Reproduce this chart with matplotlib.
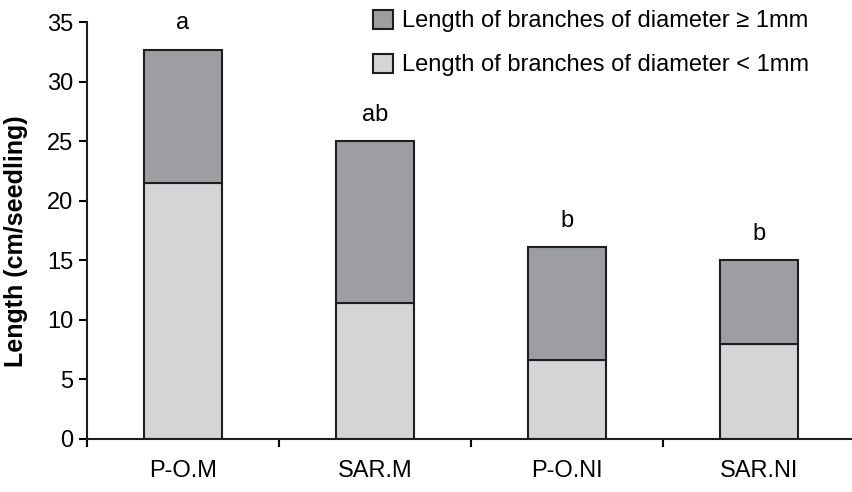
import matplotlib.pyplot as plt

plt.rcParams['font.family'] = ['Liberation Sans', 'DejaVu Sans']

treatments = ['P-O.M', 'SAR.M', 'P-O.NI', 'SAR.NI']
thin = [21.5, 11.4, 6.6, 8.0]        # diameter < 1mm
thick = [11.2, 13.6, 9.5, 7.0]       # diameter >= 1mm
letters = ['a', 'ab', 'b', 'b']

fig = plt.figure(figsize=(8.53, 4.92), dpi=100)
ax = fig.add_axes([0.102, 0.108, 0.9, 0.847])

x = range(len(treatments))
ax.bar(x, thin, width=0.405, color='#d4d5d7', edgecolor='#1e1e1e', linewidth=1.5,
       label='Length of branches of diameter < 1mm')
ax.bar(x, thick, width=0.405, bottom=thin, color='#9d9ea2', edgecolor='#1e1e1e', linewidth=1.5,
       label='Length of branches of diameter \u2265 1mm')

for i in x:
    ax.text(i, thin[i] + thick[i] + 1.3, letters[i], ha='center', va='bottom', fontsize=17)

ax.set_xlim(-0.5, 3.5)
ax.set_ylim(0, 35)
ax.set_yticks(range(0, 36, 5))
ax.set_xticks([-0.5, 0.5, 1.5, 2.5, 3.5])
ax.set_xticklabels([])
ax.set_xticks(list(x), minor=True)
ax.set_xticklabels(treatments, minor=True)
ax.tick_params(axis='x', which='minor', length=0, pad=15, labelsize=17)
ax.tick_params(axis='x', which='major', length=6, width=1.5, direction='out')
ax.tick_params(axis='y', length=6, width=1.5, direction='out', labelsize=17, pad=4)

for s in ['top', 'right']:
    ax.spines[s].set_visible(False)
for s in ['left', 'bottom']:
    ax.spines[s].set_linewidth(1.5)
    ax.spines[s].set_color('#1e1e1e')

ax.set_ylabel('Length (cm/seedling)', fontsize=18, fontweight='bold')
ax.yaxis.set_label_coords(-0.077, 0.475)

h, l = ax.get_legend_handles_labels()
leg = fig.legend(h[::-1], l[::-1], loc='upper left', bbox_to_anchor=(0.423, 1.004),
                 frameon=False, fontsize=17, handlelength=0.85, handleheight=0.85,
                 handletextpad=0.4, labelspacing=0.9, borderpad=0)

fig.savefig('out.png', dpi=100)
